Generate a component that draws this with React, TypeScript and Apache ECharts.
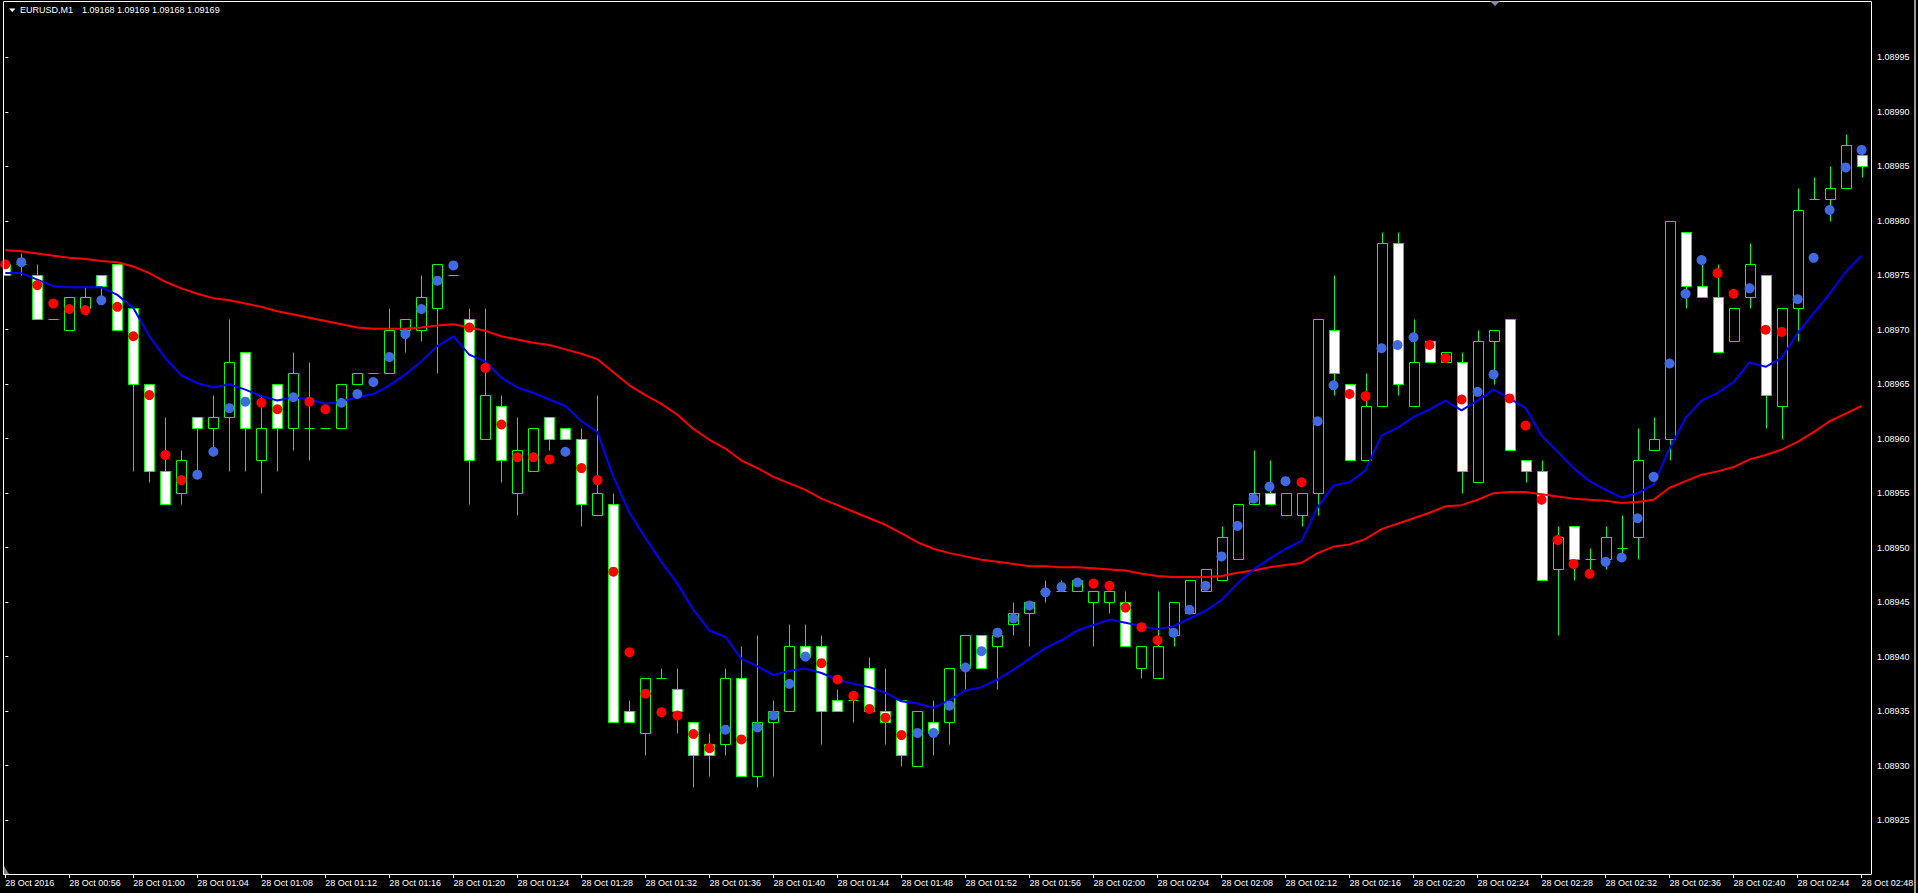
import React, { useEffect, useRef } from "react";
import * as echarts from "echarts";

const symbolTitle = "EURUSD,M1";
const headerQuote = "1.09168 1.09169 1.09168 1.09169";

// x tick labels, one every 4 one-minute bars (index 0, 4, 8, ...)
const timeLabels = [
  "28 Oct 2016", "28 Oct 00:56", "28 Oct 01:00", "28 Oct 01:04", "28 Oct 01:08", "28 Oct 01:12",
  "28 Oct 01:16", "28 Oct 01:20", "28 Oct 01:24", "28 Oct 01:28", "28 Oct 01:32", "28 Oct 01:36",
  "28 Oct 01:40", "28 Oct 01:44", "28 Oct 01:48", "28 Oct 01:52", "28 Oct 01:56", "28 Oct 02:00",
  "28 Oct 02:04", "28 Oct 02:08", "28 Oct 02:12", "28 Oct 02:16", "28 Oct 02:20", "28 Oct 02:24",
  "28 Oct 02:28", "28 Oct 02:32", "28 Oct 02:36", "28 Oct 02:40", "28 Oct 02:44", "28 Oct 02:48",
];

const priceLabels = [
  "1.08925", "1.08930", "1.08935", "1.08940", "1.08945", "1.08950", "1.08955", "1.08960",
  "1.08965", "1.08970", "1.08975", "1.08980", "1.08985", "1.08990", "1.08995",
];

const openPrices = [
  1.08976, 1.08976, 1.08975, 1.08971, 1.0897, 1.08972, 1.08975, 1.08976, 1.08972, 1.08965,
  1.08957, 1.08955, 1.08962, 1.08961, 1.08962, 1.08968, 1.08958, 1.08965, 1.08961, 1.08961,
  1.08961, 1.08961, 1.08965, 1.08966, 1.08966, 1.0897, 1.0897, 1.08972, 1.08975, 1.08971,
  1.0896, 1.08963, 1.08955, 1.08957, 1.08962, 1.08961, 1.0896, 1.08953, 1.08954, 1.08935,
  1.08933, 1.08938, 1.08937, 1.08934, 1.08932, 1.08932, 1.08938, 1.08929, 1.08934, 1.08935,
  1.08941, 1.08941, 1.08936, 1.08936, 1.08939, 1.08935, 1.08936, 1.0893, 1.08934, 1.08934,
  1.08939, 1.08942, 1.08941, 1.08943, 1.08944, 1.08946, 1.08946, 1.08946, 1.08945, 1.08945,
  1.08945, 1.08939, 1.08938, 1.08942, 1.08944, 1.08946, 1.08947, 1.08949, 1.08954, 1.08955,
  1.08953, 1.08953, 1.08955, 1.0897, 1.08965, 1.08958, 1.08963, 1.08978, 1.08963, 1.08969,
  1.08967, 1.08967, 1.08956, 1.08969, 1.08971, 1.08958, 1.08957, 1.08948, 1.08952, 1.08949,
  1.08949, 1.0895, 1.08951, 1.08959, 1.0896, 1.08979, 1.08974, 1.08973, 1.08969, 1.08973,
  1.08975, 1.08963, 1.08972, 1.08982, 1.08982, 1.08983, 1.08986,
];

const closePrices = [
  1.08975, 1.08976, 1.08971, 1.08971, 1.08973, 1.08973, 1.08974, 1.0897, 1.08965, 1.08957,
  1.08954, 1.08958, 1.08961, 1.08962, 1.08967, 1.08961, 1.08961, 1.08961, 1.08966, 1.08961,
  1.08961, 1.08965, 1.08966, 1.08966, 1.0897, 1.08971, 1.08973, 1.08976, 1.08975, 1.08958,
  1.08964, 1.08958, 1.08959, 1.08961, 1.0896, 1.0896, 1.08954, 1.08955, 1.08934, 1.08934,
  1.08938, 1.08938, 1.08935, 1.08931, 1.08931, 1.08938, 1.08929, 1.08934, 1.08935, 1.08941,
  1.0894, 1.08935, 1.08935, 1.08936, 1.08935, 1.08934, 1.08931, 1.08935, 1.08933, 1.08939,
  1.08942, 1.08939, 1.08942, 1.08944, 1.08945, 1.08946, 1.08946, 1.08947, 1.08946, 1.08946,
  1.08941, 1.08941, 1.08941, 1.08945, 1.08947, 1.08948, 1.08951, 1.08954, 1.08955, 1.08954,
  1.08955, 1.08955, 1.08971, 1.08966, 1.08958, 1.08963, 1.08978, 1.08965, 1.08967, 1.08967,
  1.08968, 1.08957, 1.08969, 1.0897, 1.08959, 1.08957, 1.08947, 1.08951, 1.08949, 1.08949,
  1.08951, 1.0895, 1.08958, 1.0896, 1.0898, 1.08974, 1.08973, 1.08968, 1.08972, 1.08976,
  1.08964, 1.08972, 1.08981, 1.08982, 1.08983, 1.08987, 1.08985,
];

const lowPrices = [
  1.08975, 1.08975, 1.08971, 1.08971, 1.0897, 1.08972, 1.08973, 1.0897, 1.08957, 1.08956,
  1.08954, 1.08954, 1.08957, 1.08959, 1.08957, 1.08957, 1.08955, 1.08957, 1.08959, 1.08958,
  1.08961, 1.08961, 1.08965, 1.08966, 1.08966, 1.08968, 1.08969, 1.08966, 1.08975, 1.08954,
  1.0896, 1.08956, 1.08953, 1.08957, 1.08959, 1.0896, 1.08952, 1.08953, 1.08934, 1.08934,
  1.08931, 1.08938, 1.08933, 1.08928, 1.08929, 1.08931, 1.08929, 1.08928, 1.08929, 1.08935,
  1.0894, 1.08932, 1.08935, 1.08934, 1.08935, 1.08932, 1.0893, 1.0893, 1.08931, 1.08932,
  1.08937, 1.08939, 1.08937, 1.08942, 1.08941, 1.08945, 1.08946, 1.08946, 1.08941, 1.08944,
  1.08941, 1.08938, 1.08938, 1.08941, 1.08944, 1.08946, 1.08947, 1.08949, 1.08954, 1.08954,
  1.08953, 1.08952, 1.08953, 1.08964, 1.08958, 1.08958, 1.08963, 1.08964, 1.08963, 1.08967,
  1.08967, 1.08955, 1.08956, 1.08965, 1.08959, 1.08956, 1.08947, 1.08942, 1.08947, 1.08948,
  1.08948, 1.08949, 1.08949, 1.08959, 1.08958, 1.08972, 1.08973, 1.08968, 1.08969, 1.08972,
  1.08961, 1.0896, 1.08969, 1.08982, 1.0898, 1.08983, 1.08984,
];

const highPrices = [
  1.08976, 1.08977, 1.08976, 1.08971, 1.08973, 1.08974, 1.08975, 1.08976, 1.08972, 1.08965,
  1.08962, 1.08959, 1.08962, 1.08964, 1.08971, 1.08968, 1.08964, 1.08965, 1.08968, 1.08967,
  1.08961, 1.08965, 1.08966, 1.08966, 1.08972, 1.08971, 1.08975, 1.08976, 1.08975, 1.08972,
  1.08972, 1.08964, 1.08962, 1.08961, 1.08962, 1.08961, 1.08961, 1.08964, 1.08955, 1.08936,
  1.08938, 1.08939, 1.08939, 1.08934, 1.08933, 1.08939, 1.08941, 1.08942, 1.08936, 1.08943,
  1.08943, 1.08942, 1.08937, 1.08936, 1.0894, 1.08939, 1.08936, 1.08935, 1.08936, 1.08939,
  1.08942, 1.08942, 1.08942, 1.08945, 1.08945, 1.08947, 1.08947, 1.08947, 1.08946, 1.08946,
  1.08946, 1.08941, 1.08946, 1.08945, 1.08947, 1.08948, 1.08952, 1.08954, 1.08959, 1.08958,
  1.08955, 1.08955, 1.08971, 1.08975, 1.08965, 1.08966, 1.08979, 1.08979, 1.08971, 1.08969,
  1.08968, 1.08968, 1.0897, 1.0897, 1.08971, 1.08958, 1.08958, 1.08952, 1.08952, 1.0895,
  1.08952, 1.08953, 1.08961, 1.08962, 1.0898, 1.08979, 1.08976, 1.08976, 1.08972, 1.08978,
  1.08975, 1.08972, 1.08983, 1.08984, 1.08985, 1.08988, 1.08987,
];

// fast moving average (blue line)
const fastMA = [
  1.089752, 1.089752, 1.089746, 1.08974, 1.089739, 1.089739, 1.089739, 1.089732, 1.08972, 1.089694,
  1.089674, 1.089658, 1.089651, 1.089647, 1.08965, 1.089645, 1.089639, 1.089635, 1.089638, 1.089636,
  1.089632, 1.089634, 1.089638, 1.089641, 1.089649, 1.089659, 1.089671, 1.089685, 1.089694, 1.089677,
  1.089671, 1.089656, 1.089647, 1.089642, 1.089636, 1.08963, 1.089616, 1.089606, 1.089565, 1.089532,
  1.089509, 1.089487, 1.089467, 1.089443, 1.089424, 1.089418, 1.089398, 1.089391, 1.089383, 1.089387,
  1.089389, 1.089385, 1.089379, 1.089375, 1.089372, 1.089367, 1.089359, 1.089357, 1.089353, 1.08936,
  1.089369, 1.089372, 1.089379, 1.089388, 1.089398, 1.089408, 1.089415, 1.089424, 1.089429, 1.089434,
  1.089431, 1.089428, 1.089425, 1.089428, 1.089435, 1.089442, 1.089452, 1.089467, 1.08948, 1.08949,
  1.089499, 1.089506, 1.089537, 1.089557, 1.08956, 1.089571, 1.089603, 1.08961, 1.08962, 1.089627,
  1.089635, 1.089626, 1.089635, 1.089645, 1.089637, 1.089628, 1.089603, 1.089588, 1.089573, 1.089561,
  1.089553, 1.089546, 1.08955, 1.089558, 1.089591, 1.089619, 1.089635, 1.089642, 1.089652, 1.08967,
  1.089666, 1.089674, 1.089697, 1.089715, 1.089733, 1.089753, 1.089768,
];

// slow moving average (red line)
const slowMA = [
  1.089773, 1.089772, 1.08977, 1.089768, 1.089766, 1.089765, 1.089763, 1.089762, 1.089758, 1.089752,
  1.089744, 1.089738, 1.089733, 1.089729, 1.089727, 1.089724, 1.089721, 1.089717, 1.089714, 1.089711,
  1.089708, 1.089705, 1.089702, 1.089701, 1.089701, 1.089701, 1.089702, 1.089704, 1.089705, 1.089702,
  1.089699, 1.089694, 1.089691, 1.089688, 1.089686, 1.089682, 1.089678, 1.089673, 1.089661, 1.089649,
  1.08964, 1.089632, 1.089622, 1.089609, 1.089599, 1.089591, 1.08958, 1.089573, 1.089565, 1.089559,
  1.089553, 1.089545, 1.089539, 1.089533, 1.089527, 1.089521, 1.089513, 1.089505, 1.089499, 1.089495,
  1.089492, 1.089489, 1.089487, 1.089485, 1.089483, 1.089483, 1.089482, 1.089482, 1.089481, 1.08948,
  1.089479, 1.089476, 1.089474, 1.089473, 1.089473, 1.089473, 1.089474, 1.089477, 1.089479, 1.089482,
  1.089484, 1.089486, 1.089495, 1.089501, 1.089503, 1.089508, 1.089517, 1.089522, 1.089527, 1.089532,
  1.089538, 1.089539, 1.089544, 1.08955, 1.089551, 1.089551, 1.089549, 1.089547, 1.089545, 1.089544,
  1.089543, 1.089541, 1.089542, 1.089544, 1.089555, 1.089561, 1.089567, 1.08957, 1.089574, 1.089581,
  1.089585, 1.08959, 1.089597, 1.089606, 1.089616, 1.089623, 1.08963,
];

// dot indicator values and their colour (B = blue, R = red)
const dotPrices = [
  1.08976, 1.089762, 1.089741, 1.089724, 1.089719, 1.089718, 1.089727, 1.089721, 1.089694, 1.08964,
  1.089585, 1.089562, 1.089567, 1.089588, 1.089628, 1.089634, 1.089633, 1.089627, 1.089638, 1.089634,
  1.089627, 1.089633, 1.089641, 1.089652, 1.089675, 1.089696, 1.089719, 1.089745, 1.089759, 1.089702,
  1.089665, 1.089613, 1.089583, 1.089583, 1.089581, 1.089588, 1.089573, 1.089562, 1.089478, 1.089404,
  1.089366, 1.089349, 1.089346, 1.089329, 1.089316, 1.089333, 1.089324, 1.089335, 1.089346, 1.089375,
  1.0894, 1.089394, 1.089379, 1.089364, 1.089352, 1.089344, 1.089328, 1.08933, 1.08933, 1.089355,
  1.08939, 1.089405, 1.089422, 1.089435, 1.089447, 1.089459, 1.089464, 1.089468, 1.089467, 1.089465,
  1.089445, 1.089427, 1.089415, 1.089422, 1.089443, 1.089465, 1.089492, 1.08952, 1.089545, 1.089556,
  1.089561, 1.08956, 1.089616, 1.089649, 1.089641, 1.089639, 1.089683, 1.089686, 1.089693, 1.089686,
  1.089674, 1.089636, 1.089643, 1.089659, 1.089637, 1.089612, 1.089544, 1.089507, 1.089485, 1.089476,
  1.089487, 1.089491, 1.089527, 1.089565, 1.089669, 1.089733, 1.089764, 1.089752, 1.089733, 1.089738,
  1.0897, 1.089698, 1.089728, 1.089766, 1.08981, 1.089849, 1.089865,
];

const dotColorCodes = (
  "RBRRRRBRRR" + "RRBBBBRRBR" + "RBBBBBBBBR" + "RRRRRBRRRR" + "RRRRRBRBBB" + "BRRRRRRBBB" +
  "BBBBBBBBRR" + "RRRBBBBBBB" + "BRBBRRBBBR" + "RRBBRRRRRR" + "BBBBBBBRRB" + "RRBBBBB"
).split("");

const pts = (p: number) => Math.round(p * 1e6) / 10;

export default function App() {
  const ref = useRef<HTMLDivElement>(null);

  useEffect(() => {
    if (!ref.current) return;
    const chart = echarts.init(ref.current, null, { renderer: "svg" });

    const green = "#00ff00";
    const font = "Liberation Sans";
    const xTicks = timeLabels.map((_, k) => k * 4);
    const yTicks = priceLabels.map((s) => Math.round(parseFloat(s) * 1e5));

    const candleData = openPrices.map((o, i) => [
      i,
      pts(o),
      pts(closePrices[i]),
      pts(lowPrices[i]),
      pts(highPrices[i]),
    ]);

    const renderCandle = (params: any, api: any) => {
      const i = api.value(0);
      const o = api.value(1);
      const c = api.value(2);
      const l = api.value(3);
      const h = api.value(4);
      const po = api.coord([i, o]);
      const pc = api.coord([i, c]);
      const pl = api.coord([i, l]);
      const ph = api.coord([i, h]);
      const cx = Math.round(po[0]) + 0.5;
      const half = 5;
      const yTop = Math.round(Math.min(po[1], pc[1])) + 0.5;
      const yBot = Math.round(Math.max(po[1], pc[1])) + 0.5;
      const yH = Math.round(ph[1]) + 0.5;
      const yL = Math.round(pl[1]) + 0.5;
      const children: any[] = [];
      if (yL - yH > 0) {
        children.push({
          type: "line",
          shape: { x1: cx, y1: yH, x2: cx, y2: yL },
          style: { stroke: green, lineWidth: 1 },
        });
      }
      if (yBot - yTop < 1) {
        children.push({
          type: "line",
          shape: { x1: cx - half, y1: yTop, x2: cx + half, y2: yTop },
          style: { stroke: green, lineWidth: 1 },
        });
      } else {
        children.push({
          type: "rect",
          shape: { x: cx - half, y: yTop, width: half * 2, height: yBot - yTop },
          style: { fill: c > o ? "#000000" : "#ffffff", stroke: green, lineWidth: 1 },
        });
      }
      return { type: "group", children };
    };

    const option: any = {
      animation: false,
      backgroundColor: "#000000",
      grid: { left: 3, right: 47, top: 1, bottom: 19, show: false },
      xAxis: {
        type: "value",
        min: -0.144,
        max: 116.586,
        splitLine: { show: false },
        axisLine: { show: false },
        axisTick: {
          show: true,
          customValues: xTicks,
          length: 4,
          lineStyle: { color: "#ffffff", width: 1 },
        },
        axisLabel: {
          show: true,
          customValues: xTicks,
          formatter: (v: number) => timeLabels[Math.round(v / 4)] ?? "",
          color: "#ffffff",
          fontSize: 9,
          fontFamily: font,
          align: "left",
          margin: 4,
        },
      },
      yAxis: {
        type: "value",
        position: "right",
        min: 108920.05,
        max: 109000.17,
        splitLine: { show: false },
        axisLine: { show: false },
        axisTick: {
          show: true,
          customValues: yTicks,
          length: 3,
          lineStyle: { color: "#ffffff", width: 1 },
        },
        axisLabel: {
          show: true,
          customValues: yTicks,
          formatter: (v: number) => (v / 1e5).toFixed(5),
          color: "#ffffff",
          fontSize: 9,
          fontFamily: font,
          margin: 6,
        },
      },
      graphic: [
        {
          type: "rect",
          z: 100,
          silent: true,
          shape: { x: 3.5, y: 1.5, width: 1868, height: 873 },
          style: { fill: "none", stroke: "#ffffff", lineWidth: 1 },
        },
        {
          type: "line",
          z: 100,
          shape: { x1: 1915, y1: 0, x2: 1915, y2: 893 },
          style: { stroke: "#9a9a9a", lineWidth: 2 },
        },
        {
          type: "polygon",
          z: 100,
          shape: { points: [[9, 8.5], [15.5, 8.5], [12.25, 12]] },
          style: { fill: "#ffffff" },
        },
        {
          type: "text",
          z: 100,
          x: 20,
          y: 10,
          style: {
            text: symbolTitle,
            fill: "#ffffff",
            font: `9px "${font}"`,
            verticalAlign: "middle",
            align: "left",
          },
        },
        {
          type: "text",
          z: 100,
          x: 82,
          y: 10,
          style: {
            text: headerQuote,
            fill: "#ffffff",
            font: `9px "${font}"`,
            verticalAlign: "middle",
            align: "left",
          },
        },
        {
          type: "polygon",
          z: 100,
          shape: { points: [[1490, 1], [1500, 1], [1495, 6]] },
          style: { fill: "#8c8ca8" },
        },
        {
          type: "polygon",
          z: 100,
          shape: { points: [[4, 866], [4, 874], [9, 874]] },
          style: { fill: "#808080" },
        },
      ],
      series: [
        {
          type: "custom",
          name: "candles",
          renderItem: renderCandle,
          encode: { x: 0, y: [1, 2, 3, 4] },
          data: candleData,
          clip: true,
          z: 2,
        },
        {
          type: "line",
          name: "slowMA",
          data: slowMA.map((v, i) => [i, pts(v)]),
          showSymbol: false,
          symbol: "none",
          lineStyle: { color: "#ff0000", width: 2, opacity: 1 },
          z: 3,
        },
        {
          type: "line",
          name: "fastMA",
          data: fastMA.map((v, i) => [i, pts(v)]),
          showSymbol: false,
          symbol: "none",
          lineStyle: { color: "#0000ff", width: 2, opacity: 1 },
          z: 3,
        },
        {
          type: "scatter",
          name: "dots",
          symbol: "circle",
          symbolSize: 10,
          data: dotPrices.map((v, i) => ({
            value: [i, pts(v)],
            itemStyle: {
              color: dotColorCodes[i] === "B" ? "#4169e1" : "#ff0000",
              opacity: 1,
            },
          })),
          itemStyle: { opacity: 1 },
          z: 4,
        },
      ],
    };

    chart.setOption(option);
    return () => chart.dispose();
  }, []);

  return (
    <div
      ref={ref}
      style={{
        position: "fixed",
        left: 0,
        top: 0,
        width: 1918,
        height: 893,
        background: "#000000",
      }}
    />
  );
}
